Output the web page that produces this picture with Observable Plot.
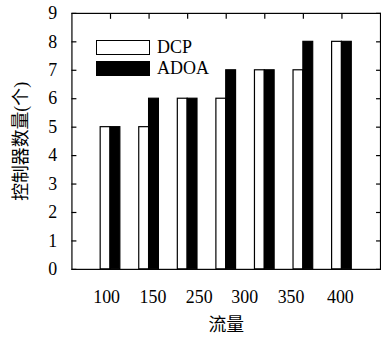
<!DOCTYPE html>
<html>
<head>
<meta charset="utf-8">
<script src="https://cdn.jsdelivr.net/npm/d3@7"></script>
<script src="https://cdn.jsdelivr.net/npm/@observablehq/plot@0.6"></script>
<style>
  html, body { margin: 0; padding: 0; background: #fff; overflow: hidden; width: 381px; height: 338px; }
  #wrap { position: relative; width: 381px; height: 338px; overflow: hidden; }
  #wrap svg { position: absolute; left: 0; top: 0; }
  .legend { position: absolute; left: 0; top: 0; font-family: "Liberation Serif", "DejaVu Serif", serif; font-size: 18px; color: #000; }
  .legend .row { position: absolute; left: 96px; display: flex; align-items: center; white-space: nowrap; line-height: 1; }
  .legend .sw { width: 52px; height: 13px; border: 1.2px solid #000; margin-right: 7px; }
</style>
</head>
<body>
<div id="wrap"></div>
<script>
// bar groups (7 of them in the picture) and their positions on the x axis
const groupPos = [1, 2, 3, 4, 5, 6, 7];
const dcp = [5, 5, 6, 6, 7, 7, 8];
const adoa = [5, 6, 6, 7, 7, 8, 8];
// x tick labels (6 of them) and where they sit on the same x axis
const xLabels = ["100", "150", "250", "300", "350", "400"];
const xLabelPos = [0.9, 2.1, 3.3, 4.48, 5.68, 6.96];
const yTicks = [0, 1, 2, 3, 4, 5, 6, 7, 8, 9];
const seriesNames = ["DCP", "ADOA"];
const seriesFill = ["#ffffff", "#000000"];
const barHalf = 0.255;

const font = "'Liberation Serif', 'Noto Sans CJK SC', serif";
const none = () => "";

const plot = Plot.plot({
  width: 384,
  height: 338,
  marginLeft: 72,
  marginRight: 1,
  marginTop: 13,
  marginBottom: 67,
  style: {fontFamily: font, fontSize: "18px", color: "#000", background: "transparent"},
  x: {type: "linear", domain: [0, 8]},
  y: {domain: [0, 9]},
  marks: [
    Plot.rectY(dcp, {x1: (d, i) => groupPos[i] - barHalf, x2: (d, i) => groupPos[i], y1: 0, y2: d => d,
      fill: seriesFill[0], stroke: "#000", strokeWidth: 1.2}),
    Plot.rectY(adoa, {x1: (d, i) => groupPos[i], x2: (d, i) => groupPos[i] + barHalf, y1: 0, y2: d => d,
      fill: seriesFill[1], stroke: "#000", strokeWidth: 1.2}),
    Plot.frame({stroke: "#000", strokeWidth: 1.2}),
    Plot.axisY({anchor: "left", ticks: yTicks, tickSize: 0, tickPadding: 15, fontSize: 18,
      label: "控制器数量(个)", labelAnchor: "center", labelOffset: 58, labelArrow: "none"}),
    Plot.axisY({anchor: "left", ticks: yTicks, tickSize: -5, tickFormat: none, label: null, strokeWidth: 1.2}),
    Plot.axisY({anchor: "right", ticks: yTicks, tickSize: -5, tickFormat: none, label: null, strokeWidth: 1.2}),
    Plot.axisX({anchor: "top", ticks: groupPos, tickSize: -5, tickFormat: none, label: null, strokeWidth: 1.2}),
    Plot.axisX({anchor: "bottom", ticks: xLabelPos, tickSize: 0, tickPadding: 21, fontSize: 18,
      tickFormat: d => xLabels[xLabelPos.indexOf(d)],
      label: "流量", labelAnchor: "center", labelOffset: 62, labelArrow: "none"})
  ]
});

const wrap = document.getElementById("wrap");
wrap.appendChild(plot);

const legend = document.createElement("div");
legend.className = "legend";
const rowTops = [38, 59];
seriesNames.forEach((name, i) => {
  const row = document.createElement("div");
  row.className = "row";
  row.style.top = rowTops[i] + "px";
  const sw = document.createElement("div");
  sw.className = "sw";
  sw.style.background = seriesFill[i];
  const t = document.createElement("span");
  t.textContent = name;
  row.appendChild(sw);
  row.appendChild(t);
  legend.appendChild(row);
});
wrap.appendChild(legend);
</script>
</body>
</html>
